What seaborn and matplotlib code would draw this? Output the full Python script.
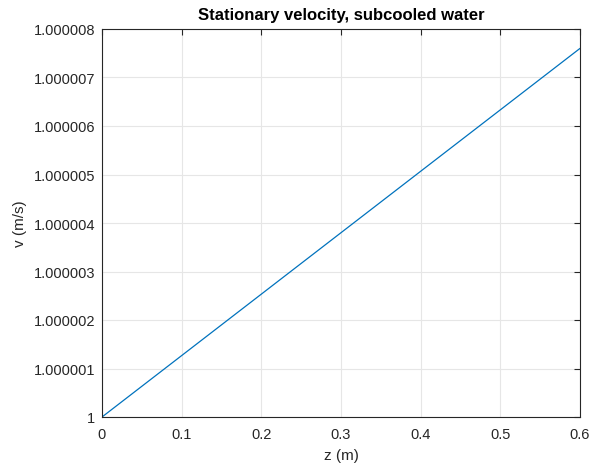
import matplotlib
matplotlib.use("Agg")
import matplotlib.pyplot as plt
import seaborn as sns
import pandas as pd
from matplotlib.ticker import FixedLocator, FuncFormatter

z_values = [0.0, 0.6]
v_values = [1.0, 1.0000076]
x_ticks = [0, 0.1, 0.2, 0.3, 0.4, 0.5, 0.6]
y_ticks = [1 + i * 1e-6 for i in range(9)]
y_labels = ["1", "1.000001", "1.000002", "1.000003", "1.000004",
            "1.000005", "1.000006", "1.000007", "1.000008"]

sns.set_style("white")
plt.rcParams["font.family"] = ["Liberation Sans", "DejaVu Sans"]

df = pd.DataFrame({"z": z_values, "v": v_values})

fig = plt.figure(figsize=(5.89, 4.64), dpi=100)
ax = fig.add_axes([102 / 589, 1 - 418 / 464, (580 - 102) / 589, (418 - 30) / 464])

sns.lineplot(data=df, x="z", y="v", ax=ax, color="#0072BD", linewidth=0.9)

ax.set_xlim(0, 0.6)
ax.set_ylim(1.0, 1.000008)
ax.xaxis.set_major_locator(FixedLocator(x_ticks))
ax.xaxis.set_major_formatter(FuncFormatter(lambda v, p: ("%g" % round(v, 6))))
ax.yaxis.set_major_locator(FixedLocator(y_ticks))
ax.set_yticklabels(y_labels)

ax.grid(True, color="#e6e6e6", linewidth=0.8)
ax.set_axisbelow(True)
for s in ax.spines.values():
    s.set_color("#262626")
    s.set_linewidth(0.8)
    s.set_visible(True)
ax.tick_params(direction="in", length=4, width=0.8, colors="#262626",
               top=True, right=True, labelsize=10.5)
ax.tick_params(axis="x", pad=7)
ax.tick_params(axis="y", pad=5)
for lbl in ax.get_xticklabels() + ax.get_yticklabels():
    lbl.set_color("#262626")

ax.set_xlabel("z (m)", fontsize=11, color="#262626", labelpad=5)
ax.set_ylabel("v (m/s)", fontsize=11, color="#262626", labelpad=5)
ax.set_title("Stationary velocity, subcooled water", fontsize=12,
             fontweight="bold", color="black", pad=7)

fig.savefig("out.png", dpi=100)
